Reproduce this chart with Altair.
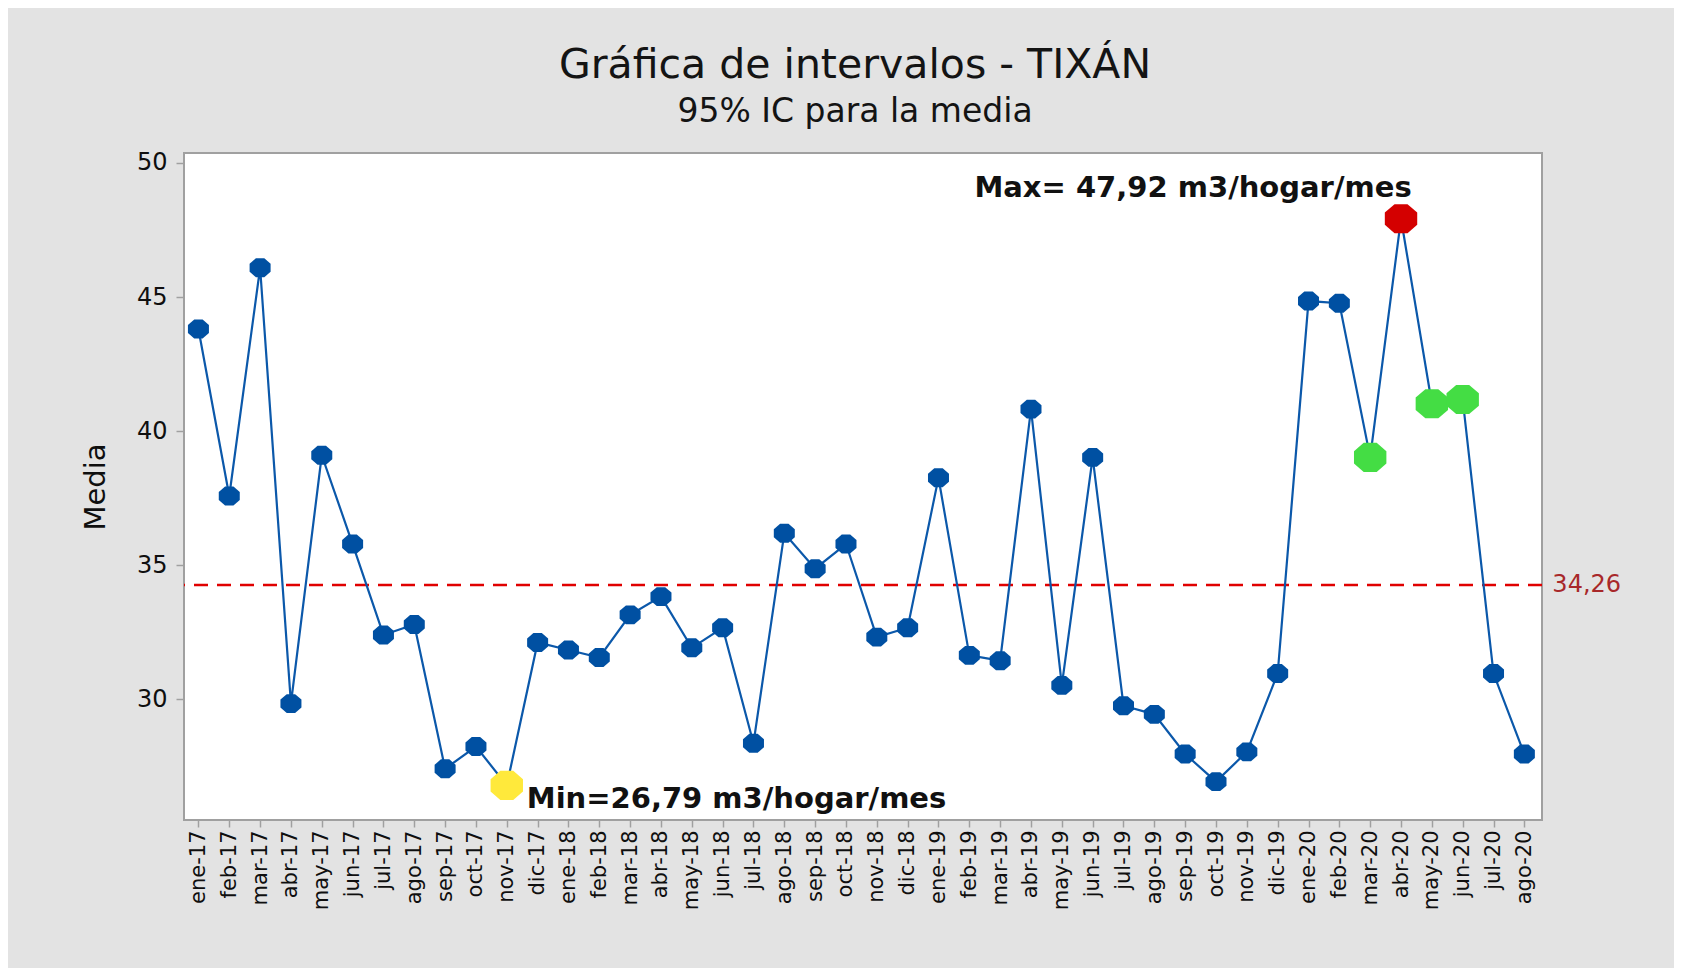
import altair as alt
import pandas as pd

# ---------------- data ----------------
months = [
    "ene-17", "feb-17", "mar-17", "abr-17", "may-17", "jun-17", "jul-17", "ago-17",
    "sep-17", "oct-17", "nov-17", "dic-17",
    "ene-18", "feb-18", "mar-18", "abr-18", "may-18", "jun-18", "jul-18", "ago-18",
    "sep-18", "oct-18", "nov-18", "dic-18",
    "ene-19", "feb-19", "mar-19", "abr-19", "may-19", "jun-19", "jul-19", "ago-19",
    "sep-19", "oct-19", "nov-19", "dic-19",
    "ene-20", "feb-20", "mar-20", "abr-20", "may-20", "jun-20", "jul-20", "ago-20",
]
media = [
    43.81, 37.58, 46.09, 29.84, 39.10, 35.79, 32.40, 32.79,
    27.41, 28.24, 26.79, 32.12,
    31.84, 31.56, 33.15, 33.83, 31.92, 32.67, 28.36, 36.19,
    34.87, 35.79, 32.32, 32.67,
    38.26, 31.64, 31.44, 40.82, 30.52, 39.02, 29.76, 29.44,
    27.96, 26.93, 28.04, 30.96,
    44.85, 44.77, 39.02, 47.92, 41.02, 41.18, 30.96, 27.96,
]
mean_value = 34.26
mean_label = "34,26"
min_month = "nov-17"
max_month = "abr-20"
green_months = ["mar-20", "may-20", "jun-20"]
min_text = "Min=26,79 m3/hogar/mes"
max_text = "Max= 47,92 m3/hogar/mes"
min_text_y = 25.93
max_text_y = 48.74

tipo = []
for m in months:
    if m == min_month:
        tipo.append("min")
    elif m == max_month:
        tipo.append("max")
    elif m in green_months:
        tipo.append("verde")
    else:
        tipo.append("normal")

df = pd.DataFrame({"mes": months, "media": media, "tipo": tipo})
mean_df = pd.DataFrame({"mes": [months[-1]], "media": [mean_value], "label": [mean_label]})
max_df = pd.DataFrame({"mes": [max_month], "media": [max_text_y], "label": [max_text]})
min_df = pd.DataFrame({"mes": [min_month], "media": [min_text_y], "label": [min_text]})

# ---------------- styling ----------------
FONT = "DejaVu Sans"
BLUE = "#0b58aa"
OCTAGON = "M-0.4,-0.9L0.4,-0.9L1,-0.38L1,0.38L0.4,0.9L-0.4,0.9L-1,0.38L-1,-0.38Z"

x_enc = alt.X(
    "mes:N",
    sort=months,
    scale=alt.Scale(type="point", padding=0.52, align=0.45),
    axis=alt.Axis(
        title=None,
        labelAngle=270,
        labelFont=FONT,
        labelFontSize=21,
        labelColor="#0f0f0f",
        labelPadding=3,
        tickSize=7,
        tickColor="#a0a0a0",
        tickWidth=1.5,
        domain=False,
        grid=False,
        labelOverlap=False,
    ),
)
y_enc = alt.Y(
    "media:Q",
    scale=alt.Scale(domain=[25.5, 50.37], nice=False, zero=False),
    axis=alt.Axis(
        title="Media",
        values=[30, 35, 40, 45, 50],
        labelFont=FONT,
        labelFontSize=24,
        labelColor="#0f0f0f",
        labelPadding=9,
        tickSize=8,
        tickColor="#a0a0a0",
        tickWidth=1.5,
        domain=False,
        grid=False,
        titleFont=FONT,
        titleFontSize=29,
        titleFontWeight="normal",
        titleColor="#0f0f0f",
        titlePadding=26,
    ),
)

mean_rule = alt.Chart(mean_df).mark_rule(
    color="#e00000", strokeWidth=2.5, strokeDash=[14, 9]
).encode(y=alt.Y("media:Q"))

line = alt.Chart(df).mark_line(color=BLUE, strokeWidth=2.2).encode(x=x_enc, y=y_enc)

pts = alt.Chart(df).transform_filter(alt.datum.tipo == "normal").mark_point(
    shape=OCTAGON, filled=True, size=441, color="#0050a2", opacity=1
).encode(x=alt.X("mes:N", sort=months), y="media:Q")

special = alt.Chart(df).transform_filter(alt.datum.tipo != "normal").mark_point(
    shape=OCTAGON, filled=True, size=1050, opacity=1
).encode(
    x=alt.X("mes:N", sort=months),
    y="media:Q",
    color=alt.Color(
        "tipo:N",
        scale=alt.Scale(domain=["min", "max", "verde"], range=["#ffe93b", "#d40000", "#44dd44"]),
        legend=None,
    ),
)

max_lbl = alt.Chart(max_df).mark_text(
    font=FONT, fontSize=29, fontWeight="bold", color="#111111",
    align="center", baseline="alphabetic", dx=-208,
).encode(x=alt.X("mes:N", sort=months), y="media:Q", text="label:N")

min_lbl = alt.Chart(min_df).mark_text(
    font=FONT, fontSize=29, fontWeight="bold", color="#111111",
    align="left", baseline="alphabetic", dx=20,
).encode(x=alt.X("mes:N", sort=months), y="media:Q", text="label:N")

mean_lbl = alt.Chart(mean_df).mark_text(
    font=FONT, fontSize=24, color="#a8282a", align="left", baseline="middle", dx=28,
).encode(x=alt.X("mes:N", sort=months), y="media:Q", text="label:N")

chart = alt.layer(mean_rule, line, pts, special, max_lbl, min_lbl, mean_lbl).properties(
    width=1358,
    height=667,
    autosize=alt.AutoSizeParams(type="none"),
    padding={"left": 176, "top": 145, "right": 132, "bottom": 148},
    background="#e3e3e3",
    title=alt.TitleParams(
        text="Gráfica de intervalos - TIXÁN",
        subtitle="95% IC para la media",
        font=FONT,
        fontSize=41,
        fontWeight="normal",
        color="#141414",
        subtitleFont=FONT,
        subtitleFontSize=33,
        subtitleColor="#141414",
        subtitlePadding=9,
        anchor="middle",
        frame="group",
        dx=-8,
        offset=21,
    ),
).configure_view(
    stroke="#a0a0a0", strokeWidth=2, fill="white"
)

chart.save("out.html", embed_options={"renderer": "svg", "actions": False})
